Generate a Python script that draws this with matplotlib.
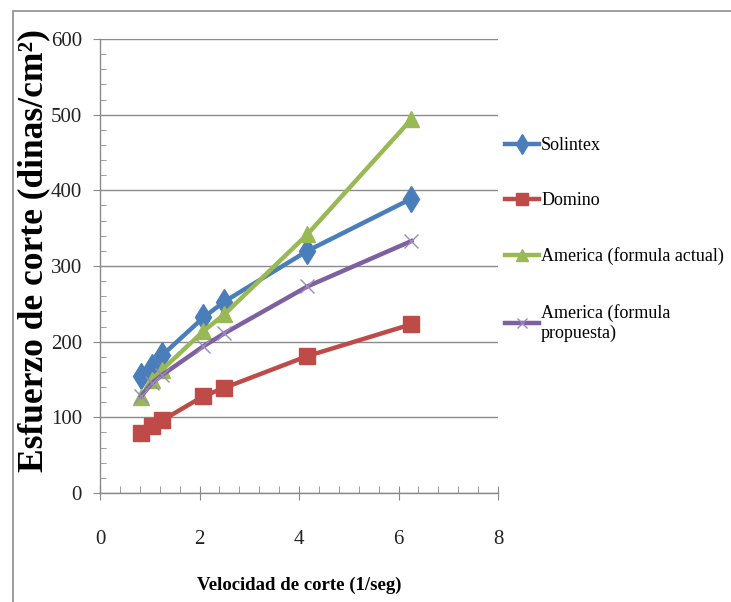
import matplotlib
matplotlib.use("Agg")
import matplotlib.pyplot as plt
from matplotlib.patches import Rectangle
from matplotlib.ticker import MultipleLocator

# Shear rate (1/s) and shear stress (dyn/cm^2) for each fluid
velocidad = [0.83, 1.04, 1.25, 2.08, 2.50, 4.17, 6.26]
solintex = [154, 167, 182, 232, 253, 320, 389]
domino = [79, 89, 96, 128, 139, 181, 223]
america_actual = [127, 150, 163, 214, 236, 342, 494]
america_propuesta = [128, 145, 156, 194, 211, 273, 333]

series_names = ["Solintex", "Domino", "America (formula actual)",
                "America (formula\npropuesta)"]
x_ticks = [0, 2, 4, 6, 8]
y_ticks = [0, 100, 200, 300, 400, 500, 600]

plt.rcParams["font.family"] = ["Liberation Serif", "DejaVu Serif"]

W, H = 731, 602
fig = plt.figure(figsize=(W / 100, H / 100), dpi=100)
fig.patch.set_facecolor("white")

# thin frame around the chart area (only top and left edges fall inside)
fig.patches.append(Rectangle((13 / W, -0.1), 1.2, (H - 11) / H + 0.1,
                             transform=fig.transFigure, fill=False,
                             edgecolor="#8c8c8c", linewidth=1.2))

ax = fig.add_axes([100 / W, (H - 493) / H, (498 - 100) / W, (493 - 39) / H])

styles = [
    dict(color="#4A7EBB", marker="d", markersize=13),
    dict(color="#BE4B48", marker="s", markersize=11),
    dict(color="#98B954", marker="^", markersize=11.5),
    dict(color="#7D60A0", marker="x", markersize=10, markeredgewidth=1.0,
         markeredgecolor="#9d88bf"),
]
data = [solintex, domino, america_actual, america_propuesta]
for vals, name, st in zip(data, series_names, styles):
    ax.plot(velocidad, vals, linewidth=3.2, label=name, **st)

ax.set_xlim(0, 8)
ax.set_ylim(0, 600)
ax.set_xticks(x_ticks)
ax.set_yticks(y_ticks)
ax.xaxis.set_minor_locator(MultipleLocator(0.4))
ax.yaxis.set_minor_locator(MultipleLocator(20))

ax.grid(axis="y", which="major", color="#8a8a8a", linewidth=1.0)
ax.set_axisbelow(True)
for side in ("top", "right"):
    ax.spines[side].set_visible(False)
for side in ("left", "bottom"):
    ax.spines[side].set_color("#8a8a8a")
    ax.spines[side].set_linewidth(1.0)

ax.tick_params(axis="y", which="major", direction="out", length=5,
               color="#8a8a8a", labelsize=15, labelcolor="#222222", pad=8)
ax.tick_params(axis="y", which="minor", direction="in", length=4,
               color="#8a8a8a")
ax.tick_params(axis="x", which="major", direction="inout", length=10,
               color="#8a8a8a", labelsize=15, labelcolor="#222222", pad=22)
ax.tick_params(axis="x", which="minor", direction="in", length=5,
               color="#8a8a8a")

ax.set_xlabel("Velocidad de corte (1/seg)", fontsize=13.5, fontweight="bold")
ax.xaxis.set_label_coords(0.5, -(585 - 493) / (493 - 39), transform=ax.transAxes)
ax.xaxis.label.set_va("center")

ax.set_ylabel("Esfuerzo de corte (dinas/cm²)", fontsize=25.5, fontweight="bold")
ax.yaxis.set_label_coords(-(100 - 34) / (498 - 100), (493 - 251) / (493 - 39))
ax.yaxis.label.set_va("center")

leg = fig.legend(*ax.get_legend_handles_labels(), loc="upper left",
                 bbox_to_anchor=(505 / W, 1 - 137 / H),
                 frameon=False, fontsize=13, handlelength=1.9,
                 handletextpad=0.1, labelspacing=2.12, borderaxespad=0,
                 borderpad=0, markerscale=0.75)

fig.savefig("out.png", dpi=100, facecolor="white")
